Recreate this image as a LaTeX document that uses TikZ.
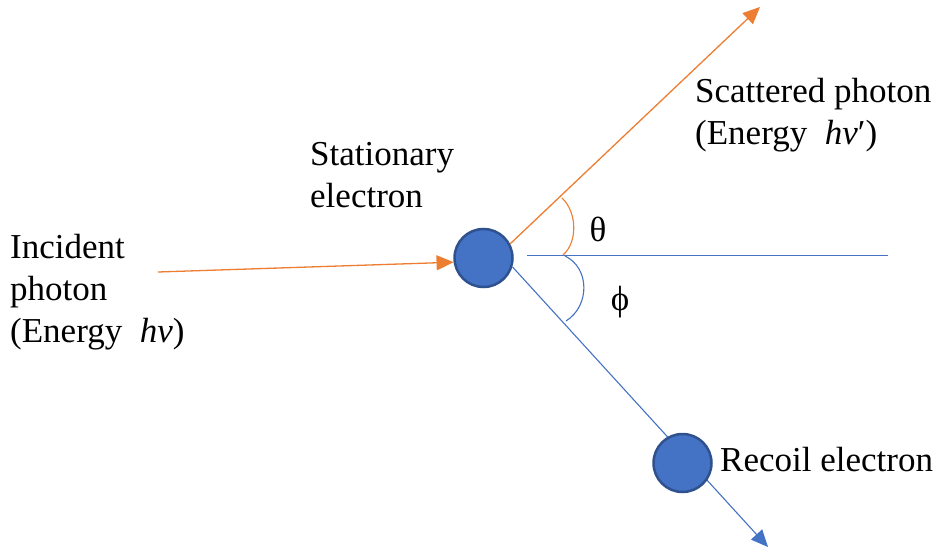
\documentclass[tikz,border=0pt]{standalone}
\usepackage{fontspec}
\setmainfont{LiberationSerif}[Extension=.ttf,UprightFont=*-Regular,ItalicFont=*-Italic,BoldFont=*-Bold]
\usetikzlibrary{arrows.meta,backgrounds}
\definecolor{orng}{HTML}{ED7D31}
\definecolor{blu}{HTML}{4472C4}
\definecolor{bluedge}{HTML}{2F528F}
\begin{document}
\begin{tikzpicture}[x=1pt,y=-1pt,
  lbl/.style={anchor=west,align=left,inner sep=0pt,font=\fontsize{35}{42}\selectfont},
  greek/.style={inner sep=0pt,font=\fontsize{35}{42}\selectfont},
  electron/.style={circle,fill=blu,draw=bluedge,line width=2.5pt,minimum size=58pt,inner sep=0pt},
  phline/.style={draw=orng,line width=1.3pt,-{Triangle[length=17pt,width=15pt]}},
  elline/.style={draw=blu,line width=1.1pt,-{Triangle[length=17pt,width=15pt]}},
  axis/.style={draw=blu,line width=1pt},
  anglearc/.style={line width=1.1pt}]
\useasboundingbox (0,0) rectangle (942,548);
\node[electron] (se) at (483.5,258) {};
\node[electron] (re) at (682.5,463) {};
\coordinate (inS) at (158,272);
\coordinate (scE) at (760,7);
\coordinate (reE) at (768,547);
\coordinate (h1) at (527,255);
\coordinate (h2) at (888,255);
\begin{scope}[on background layer]
  \draw[phline] (inS) -- (se.188);
  \draw[phline] (se.28) -- (scE);
  \draw[elline] (se.-17) -- (reE);
\end{scope}
\draw[axis] (h1) -- (h2);
\coordinate (a1) at (562,198);
\coordinate (a2) at (563,255);
\coordinate (b1) at (565,256);
\coordinate (b2) at (566,321);
\draw[anglearc,orng] (a1) .. controls (577,212) and (578,242) .. (a2);
\draw[anglearc,blu] (b1) .. controls (590,268) and (590,306) .. (b2);
\node[greek] (th) at (598,229) {θ};
\node[greek] (ph) at (620,302) {ϕ};
\node[lbl] (stat) at (310,175) {Stationary\\electron};
\node[lbl] (scat) at (695,115) {Scattered photon\\(Energy\ \ {\itshape hν}′)};
\node[lbl] (inc) at (10,292) {Incident\\photon\\(Energy\ \ {\itshape hν})};
\node[lbl] (rec) at (720,460) {Recoil electron};
\end{tikzpicture}
\end{document}
